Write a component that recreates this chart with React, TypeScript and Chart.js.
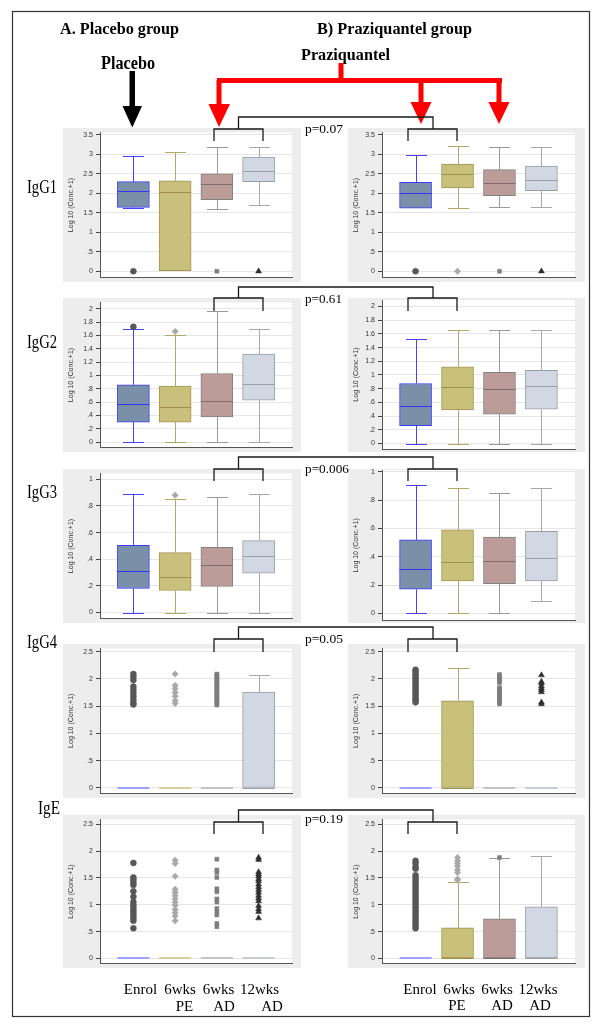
import React, { useEffect, useRef } from 'react';
import { Chart, registerables } from 'chart.js';
Chart.register(...registerables);

// ---------- categories ----------
const groups = ['Enrol', '6wks PE', '6wks AD', '12wks AD'];
const groupX = [1, 2, 3, 4];
const bottomLine1 = ['Enrol', '6wks', '6wks', '12wks'];
const bottomLine2 = ['', 'PE', 'AD', 'AD'];
const rowLabels = ['IgG1', 'IgG2', 'IgG3', 'IgG4', 'IgE'];
const pValues = ['p=0.07', 'p=0.61', 'p=0.006', 'p=0.05', 'p=0.19'];
const yTitle = 'Log 10 (Conc.+1)';

// ---------- tick values / labels ----------
const ticks35 = [0, 0.5, 1, 1.5, 2, 2.5, 3, 3.5];
const ticks35Labels = ['0', '.5', '1', '1.5', '2', '2.5', '3', '3.5'];
const ticks2 = [0, 0.2, 0.4, 0.6, 0.8, 1, 1.2, 1.4, 1.6, 1.8, 2];
const ticks2Labels = ['0', '.2', '.4', '.6', '.8', '1', '1.2', '1.4', '1.6', '1.8', '2'];
const ticks1 = [0, 0.2, 0.4, 0.6, 0.8, 1];
const ticks1Labels = ['0', '.2', '.4', '.6', '.8', '1'];
const ticks25 = [0, 0.5, 1, 1.5, 2, 2.5];
const ticks25Labels = ['0', '.5', '1', '1.5', '2', '2.5'];

// ---------- IgG1 ----------
const igg1PlaLo = [1.62, 0, 1.61, 1.69];
const igg1PlaQ1 = [1.64, 0, 1.84, 2.3];
const igg1PlaMed = [2.06, 2.03, 2.23, 2.57];
const igg1PlaQ3 = [2.3, 2.32, 2.5, 2.93];
const igg1PlaHi = [2.97, 3.07, 3.18, 3.19];
const igg1PlaOut = [[0], [], [0], [0]];

const igg1PzqLo = [1.62, 1.63, 1.65, 1.65];
const igg1PzqQ1 = [1.62, 2.14, 1.94, 2.07];
const igg1PzqMed = [2.0, 2.49, 2.27, 2.34];
const igg1PzqQ3 = [2.28, 2.75, 2.61, 2.7];
const igg1PzqHi = [2.99, 3.21, 3.19, 3.19];
const igg1PzqOut = [[0], [0], [0], [0]];

// ---------- IgG2 ----------
const igg2PlaLo = [0, 0, 0, 0];
const igg2PlaQ1 = [0.3, 0.3, 0.38, 0.63];
const igg2PlaMed = [0.565, 0.525, 0.61, 0.87];
const igg2PlaQ3 = [0.86, 0.84, 1.03, 1.32];
const igg2PlaHi = [1.7, 1.6, 1.96, 1.69];
const igg2PlaOut = [[1.73], [1.66], [], []];

const igg2PzqLo = [0, 0, 0, 0];
const igg2PzqQ1 = [0.26, 0.49, 0.43, 0.5];
const igg2PzqMed = [0.55, 0.83, 0.79, 0.84];
const igg2PzqQ3 = [0.876, 1.12, 1.04, 1.07];
const igg2PzqHi = [1.52, 1.65, 1.66, 1.66];
const igg2PzqOut = [[], [], [], []];

// ---------- IgG3 ----------
const igg3PlaLo = [0, 0, 0, 0];
const igg3PlaQ1 = [0.18, 0.165, 0.195, 0.295];
const igg3PlaMed = [0.31, 0.27, 0.36, 0.425];
const igg3PlaQ3 = [0.505, 0.45, 0.49, 0.54];
const igg3PlaHi = [0.89, 0.85, 0.865, 0.89];
const igg3PlaOut = [[], [0.88], [], []];

const igg3PzqLo = [0, 0, 0, 0.085];
const igg3PzqQ1 = [0.17, 0.23, 0.21, 0.23];
const igg3PzqMed = [0.31, 0.365, 0.37, 0.39];
const igg3PzqQ3 = [0.52, 0.59, 0.54, 0.58];
const igg3PzqHi = [0.91, 0.89, 0.85, 0.89];
const igg3PzqOut = [[], [], [], []];

// ---------- IgG4 ----------
const igg4PlaLo = [0, 0, 0, 0];
const igg4PlaQ1 = [0, 0, 0, 0];
const igg4PlaMed = [0, 0, 0, 0];
const igg4PlaQ3 = [0, 0, 0, 1.76];
const igg4PlaHi = [0, 0, 0, 2.07];
const igg4PlaOut = [
  [2.09, 2.04, 1.98, 1.86, 1.8, 1.74, 1.68, 1.62, 1.56, 1.53],
  [2.09, 1.88, 1.82, 1.75, 1.68, 1.6, 1.55],
  [2.09, 2.06, 2.03, 2.0, 1.97, 1.94, 1.91, 1.88, 1.85, 1.82, 1.79, 1.76, 1.73, 1.7, 1.67, 1.64, 1.61, 1.58, 1.55, 1.52],
  [],
];

const igg4PzqLo = [0, 0, 0, 0];
const igg4PzqQ1 = [0, 0, 0, 0];
const igg4PzqMed = [0, 0, 0, 0];
const igg4PzqQ3 = [0, 1.6, 0, 0];
const igg4PzqHi = [0, 2.2, 0, 0];
const igg4PzqOut = [
  [2.17, 2.13, 2.09, 2.05, 2.01, 1.97, 1.93, 1.89, 1.85, 1.81, 1.77, 1.73, 1.69, 1.65, 1.61, 1.57],
  [],
  [2.08, 2.05, 2.02, 1.99, 1.96, 1.93, 1.84, 1.81, 1.78, 1.75, 1.72, 1.69, 1.66, 1.63, 1.6, 1.57, 1.54],
  [2.07, 1.95, 1.92, 1.87, 1.83, 1.8, 1.76, 1.57, 1.54],
];

// ---------- IgE ----------
const igePlaLo = [0, 0, 0, 0];
const igePlaQ1 = [0, 0, 0, 0];
const igePlaMed = [0, 0, 0, 0];
const igePlaQ3 = [0, 0, 0, 0];
const igePlaHi = [0, 0, 0, 0];
const igePlaOut = [
  [1.78, 1.51, 1.47, 1.42, 1.37, 1.25, 1.15, 1.05, 0.99, 0.94, 0.89, 0.85, 0.8, 0.75, 0.7, 0.56],
  [1.83, 1.77, 1.53, 1.29, 1.23, 1.17, 1.11, 1.05, 0.99, 0.91, 0.85, 0.79, 0.7],
  [1.85, 1.65, 1.6, 1.51, 1.3, 1.24, 1.11, 1.05, 0.93, 0.87, 0.81, 0.65, 0.59],
  [1.88, 1.84, 1.61, 1.57, 1.53, 1.48, 1.44, 1.38, 1.33, 1.28, 1.23, 1.17, 1.12, 1.07, 0.98, 0.92, 0.87, 0.75],
];

const igePzqLo = [0, 0, 0, 0];
const igePzqQ1 = [0, 0, 0, 0];
const igePzqMed = [0, 0, 0, 0];
const igePzqQ3 = [0, 0.57, 0.74, 0.96];
const igePzqHi = [0, 1.43, 1.87, 1.91];
const igePzqOut = [
  [1.82, 1.77, 1.7, 1.67, 1.55, 1.5, 1.45, 1.4, 1.35, 1.3, 1.25, 1.2, 1.15, 1.1, 1.05, 1.0, 0.95, 0.9, 0.85, 0.8, 0.75, 0.7, 0.65, 0.6, 0.56],
  [1.88, 1.82, 1.77, 1.72, 1.65, 1.6, 1.48, 1.46],
  [1.88],
  [],
];

// ---------- styles ----------
const boxFill = ['#7a90a8', '#c9c07c', '#bc9c98', '#d1d8e4'];
const boxBorder = ['#3a3aff', '#a39550', '#808080', '#9a9ca4'];
const whiskerColor = ['#4444ff', '#b5a866', '#9a9a9a', '#a8a8a8'];
const medianColor = ['#3333ff', '#9e8f4c', '#7c6c6c', '#9aa0a8'];
const flatColor = ['#a0a0ff', '#d8d0a0', '#c4c4c4', '#c8ccd4'];
const markerColor = ['#575757', '#a8a8a8', '#7e7e7e', '#2e2e2e'];
const markerStyle = ['circle', 'rectRot', 'rect', 'triangle'];
const markerRadius = [3, 3.2, 2.8, 3.4];

const SERIF = "'Liberation Serif', 'Times New Roman', serif";
const SANS = "'Liberation Sans', Arial, sans-serif";

type PanelProps = {
  left: number; top: number; width: number; height: number;
  axisWidth: number; padTop: number; padBottom: number; padRight: number;
  yMin: number; yMax: number; tickVals: number[]; tickLabels: string[];
  lo: number[]; q1: number[]; med: number[]; q3: number[]; hi: number[]; out: number[][];
};

function Panel(p: PanelProps) {
  const ref = useRef<HTMLCanvasElement>(null);
  useEffect(() => {
    const canvas = ref.current;
    if (!canvas) return;
    const px = (v: number) => Math.round(v) + 0.5;
    const boxPlugin = {
      id: 'boxParts',
      beforeDraw(chart: any) {
        const { ctx, chartArea: a } = chart;
        ctx.save();
        ctx.fillStyle = '#ededed';
        ctx.fillRect(0, 0, chart.width, chart.height);
        ctx.fillStyle = '#ffffff';
        ctx.fillRect(a.left, a.top, a.right - a.left, a.bottom - a.top);
        ctx.restore();
      },
      beforeDatasetsDraw(chart: any) {
        const { ctx } = chart;
        const xs = chart.scales.x;
        const ys = chart.scales.y;
        ctx.save();
        ctx.lineWidth = 1;
        groupX.forEach((gx, i) => {
          const x = px(xs.getPixelForValue(gx));
          ctx.strokeStyle = whiskerColor[i];
          ctx.beginPath();
          if (p.hi[i] > p.q3[i]) {
            const y0 = ys.getPixelForValue(p.q3[i]);
            const y1 = px(ys.getPixelForValue(p.hi[i]));
            ctx.moveTo(x, y0); ctx.lineTo(x, y1);
            ctx.moveTo(x - 10.5, y1); ctx.lineTo(x + 10.5, y1);
          }
          if (p.lo[i] < p.q1[i]) {
            const y0 = ys.getPixelForValue(p.q1[i]);
            const y1 = px(ys.getPixelForValue(p.lo[i]));
            ctx.moveTo(x, y0); ctx.lineTo(x, y1);
            ctx.moveTo(x - 10.5, y1); ctx.lineTo(x + 10.5, y1);
          }
          ctx.stroke();
        });
        ctx.restore();
      },
      afterDatasetsDraw(chart: any) {
        const { ctx } = chart;
        const xs = chart.scales.x;
        const ys = chart.scales.y;
        ctx.save();
        groupX.forEach((gx, i) => {
          const x = xs.getPixelForValue(gx);
          const y = ys.getPixelForValue(p.med[i]);
          ctx.beginPath();
          if (p.q3[i] > p.q1[i]) {
            ctx.strokeStyle = medianColor[i];
            ctx.lineWidth = 1;
            ctx.moveTo(x - 16, px(y)); ctx.lineTo(x + 16, px(y));
          } else {
            ctx.strokeStyle = flatColor[i];
            ctx.lineWidth = 2;
            ctx.moveTo(x - 16, Math.round(y)); ctx.lineTo(x + 16, Math.round(y));
          }
          ctx.stroke();
        });
        ctx.restore();
      },
    };

    const datasets: any[] = [
      {
        type: 'bar',
        data: groupX.map((gx, i) => ({ x: gx, y: [p.q1[i], p.q3[i]] })),
        backgroundColor: boxFill,
        borderColor: boxBorder,
        borderWidth: 1,
        borderSkipped: false,
        barThickness: 32,
        grouped: false,
        order: 2,
      },
      ...groupX.map((gx, i) => ({
        type: 'scatter',
        data: p.out[i].map((v) => ({ x: gx, y: v })),
        pointStyle: markerStyle[i],
        pointRadius: markerRadius[i],
        pointBackgroundColor: markerColor[i],
        pointBorderColor: markerColor[i],
        pointBorderWidth: 0.5,
        showLine: false,
        order: 1,
      })),
    ];

    const chart = new Chart(canvas, {
      type: 'scatter',
      data: { datasets },
      options: {
        responsive: false,
        animation: false,
        devicePixelRatio: 1,
        events: [],
        layout: { padding: { top: p.padTop, bottom: p.padBottom, left: 0, right: p.padRight } },
        plugins: { legend: { display: false }, tooltip: { enabled: false } },
        scales: {
          x: {
            type: 'linear',
            min: 0.2,
            max: 4.8,
            offset: false,
            ticks: { display: false },
            grid: { display: false, drawTicks: false, offset: false },
            border: { display: true, color: '#555555', width: 1 },
            afterFit: (s: any) => { s.height = 0; s.paddingLeft = 0; s.paddingRight = 0; },
          },
          y: {
            type: 'linear',
            min: p.yMin,
            max: p.yMax,
            afterBuildTicks: (s: any) => { s.ticks = p.tickVals.map((v) => ({ value: v })); },
            afterFit: (s: any) => { s.width = p.axisWidth; s.paddingTop = 0; s.paddingBottom = 0; },
            ticks: {
              autoSkip: false,
              padding: 3,
              color: '#333333',
              font: { family: SANS, size: 7 },
              callback: (_v: any, i: number) => p.tickLabels[i],
            },
            grid: { color: '#e6e6e6', tickColor: '#444444', tickLength: 4, drawTicks: true },
            border: { display: true, color: '#555555', width: 1 },
            title: {
              display: true,
              text: yTitle,
              color: '#333333',
              font: { family: SANS, size: 7 },
              padding: { top: 4, bottom: 0 },
            },
          },
        },
      } as any,
      plugins: [boxPlugin],
    });
    return () => chart.destroy();
  }, []);
  return (
    <canvas
      ref={ref}
      width={p.width}
      height={p.height}
      style={{ position: 'absolute', left: p.left, top: p.top, width: p.width, height: p.height }}
    />
  );
}

// ---------- layout ----------
function yRange(plotTop: number, plotBottom: number, v0: number, p0: number, v1: number, p1: number) {
  const k = (p0 - p1) / (v1 - v0);
  return { min: v0 - (plotBottom - p0) / k, max: v1 + (p1 - plotTop) / k };
}

const rowGeom = [
  { grayTop: 128, grayBottom: 282, plotTop: 129, plotBottom: 279, top: 3.5, L: [272.5, 131.5], R: [272.5, 131.5] },
  { grayTop: 298, grayBottom: 452, plotTop: 300, plotBottom: 449, top: 2, L: [443.5, 306.5], R: [443.5, 306.5] },
  { grayTop: 469, grayBottom: 623, plotTop: 470, plotBottom: 620.5, top: 1, L: [614.3, 476], R: [613.3, 472] },
  { grayTop: 644, grayBottom: 798, plotTop: 645, plotBottom: 793, top: 2.5, L: [787.7, 648.3], R: [787.7, 648.3] },
  { grayTop: 815, grayBottom: 968, plotTop: 815, plotBottom: 964.5, top: 2.5, L: [959.2, 820], R: [959.2, 820] },
];
const rowTicks = [
  [ticks35, ticks35Labels],
  [ticks2, ticks2Labels],
  [ticks1, ticks1Labels],
  [ticks25, ticks25Labels],
  [ticks25, ticks25Labels],
] as [number[], string[]][];

const placeboStats = [
  [igg1PlaLo, igg1PlaQ1, igg1PlaMed, igg1PlaQ3, igg1PlaHi, igg1PlaOut],
  [igg2PlaLo, igg2PlaQ1, igg2PlaMed, igg2PlaQ3, igg2PlaHi, igg2PlaOut],
  [igg3PlaLo, igg3PlaQ1, igg3PlaMed, igg3PlaQ3, igg3PlaHi, igg3PlaOut],
  [igg4PlaLo, igg4PlaQ1, igg4PlaMed, igg4PlaQ3, igg4PlaHi, igg4PlaOut],
  [igePlaLo, igePlaQ1, igePlaMed, igePlaQ3, igePlaHi, igePlaOut],
] as any[];
const pzqStats = [
  [igg1PzqLo, igg1PzqQ1, igg1PzqMed, igg1PzqQ3, igg1PzqHi, igg1PzqOut],
  [igg2PzqLo, igg2PzqQ1, igg2PzqMed, igg2PzqQ3, igg2PzqHi, igg2PzqOut],
  [igg3PzqLo, igg3PzqQ1, igg3PzqMed, igg3PzqQ3, igg3PzqHi, igg3PzqOut],
  [igg4PzqLo, igg4PzqQ1, igg4PzqMed, igg4PzqQ3, igg4PzqHi, igg4PzqOut],
  [igePzqLo, igePzqQ1, igePzqMed, igePzqQ3, igePzqHi, igePzqOut],
] as any[];

const sides = {
  L: { left: 63, width: 238, axisWidth: 37, padRight: 9 },
  R: { left: 348, width: 237, axisWidth: 34, padRight: 10 },
};

const bracketRows = [
  { top: 117, mid: 129, leg: 141 },
  { top: 287, mid: 298, leg: 311 },
  { top: 457, mid: 469, leg: 481 },
  { top: 627, mid: 639, leg: 652 },
  { top: 810, mid: 822, leg: 834 },
];
const rowLabelPos = [
  { x: 27, y: 193.3, w: 30 },
  { x: 27, y: 348.3, w: 30 },
  { x: 27, y: 498.3, w: 30 },
  { x: 27, y: 648.3, w: 30 },
  { x: 38, y: 814, w: 22 },
];
const pPos = [
  { y: 133.3, w: 38 },
  { y: 303.3, w: 37 },
  { y: 473.3, w: 44 },
  { y: 643.3, w: 38 },
  { y: 823.3, w: 38 },
];
const bottomLeftX1 = [140.5, 180, 218.5, 259.5];
const bottomLeftX2 = [0, 184.5, 224, 272];
const bottomRightX1 = [420, 459, 497, 538];
const bottomRightX2 = [0, 457, 502, 540];

export default function App() {
  const panels: any[] = [];
  rowGeom.forEach((g, r) => {
    (['L', 'R'] as const).forEach((side) => {
      const s = sides[side];
      const cal = g[side];
      const rng = yRange(g.plotTop, g.plotBottom, 0, cal[0], g.top, cal[1]);
      const st = side === 'L' ? placeboStats[r] : pzqStats[r];
      panels.push(
        <Panel
          key={`${r}${side}`}
          left={s.left}
          top={g.grayTop}
          width={s.width}
          height={g.grayBottom - g.grayTop}
          axisWidth={s.axisWidth}
          padTop={g.plotTop - g.grayTop}
          padBottom={g.grayBottom - g.plotBottom}
          padRight={s.padRight}
          yMin={rng.min}
          yMax={rng.max}
          tickVals={rowTicks[r][0]}
          tickLabels={rowTicks[r][1]}
          lo={st[0]} q1={st[1]} med={st[2]} q3={st[3]} hi={st[4]} out={st[5]}
        />
      );
    });
  });

  const red = '#ff0000';
  return (
    <div style={{ position: 'absolute', left: 0, top: 0, width: 600, height: 1027, background: '#ffffff', overflow: 'hidden' }}>
      {panels}
      <svg width={600} height={1027} style={{ position: 'absolute', left: 0, top: 0, pointerEvents: 'none' }}>
        <rect x={12.5} y={11.5} width={577} height={1005} fill="none" stroke="#333333" strokeWidth={1.2} />
        {/* headers */}
        <text x={60} y={34} fontFamily={SERIF} fontWeight="bold" fontSize={17} textLength={119} lengthAdjust="spacingAndGlyphs">A. Placebo group</text>
        <text x={317} y={34} fontFamily={SERIF} fontWeight="bold" fontSize={17} textLength={155} lengthAdjust="spacingAndGlyphs">B) Praziquantel group</text>
        <text x={101} y={68.5} fontFamily={SERIF} fontWeight="bold" fontSize={18} textLength={54} lengthAdjust="spacingAndGlyphs">Placebo</text>
        <text x={301} y={59.6} fontFamily={SERIF} fontWeight="bold" fontSize={17} textLength={89} lengthAdjust="spacingAndGlyphs">Praziquantel</text>
        {/* black arrow */}
        <rect x={129.5} y={71} width={5.5} height={37} fill="#000" />
        <polygon points="122.5,106 142,106 132.3,127.5" fill="#000" />
        {/* red bracket arrows */}
        <rect x={338.5} y={63} width={5} height={17} fill={red} />
        <rect x={217} y={78} width={285} height={5} fill={red} />
        <rect x={216.5} y={80} width={5} height={25} fill={red} />
        <rect x={418.5} y={80} width={5} height={23} fill={red} />
        <rect x={496.5} y={80} width={5} height={23} fill={red} />
        <polygon points="208.5,104 230,104 219,127" fill={red} />
        <polygon points="410.5,102 431.5,102 421,124" fill={red} />
        <polygon points="488.5,102 509.5,102 499,124" fill={red} />
        {/* brackets and p-values */}
        {bracketRows.map((b, r) => (
          <g key={r} stroke="#1a1a1a" strokeWidth={1.3} fill="none">
            <polyline points={`214,${b.leg} 214,${b.mid} 263,${b.mid} 263,${b.leg}`} />
            <polyline points={`238.5,${b.mid} 238.5,${b.top} 433,${b.top} 433,${b.mid}`} />
            <polyline points={`408,${b.leg} 408,${b.mid} 457,${b.mid} 457,${b.leg}`} />
          </g>
        ))}
        {pValues.map((t, r) => (
          <text key={t} x={305} y={pPos[r].y} fontFamily={SERIF} fontSize={13.5} textLength={pPos[r].w} lengthAdjust="spacingAndGlyphs">{t}</text>
        ))}
        {rowLabels.map((t, r) => (
          <text key={t} x={rowLabelPos[r].x} y={rowLabelPos[r].y} fontFamily={SERIF} fontSize={18} textLength={rowLabelPos[r].w} lengthAdjust="spacingAndGlyphs">{t}</text>
        ))}
        {/* bottom group labels */}
        {bottomLine1.map((t, i) => (
          <text key={`l1${i}`} x={bottomLeftX1[i]} y={994.3} textAnchor="middle" fontFamily={SERIF} fontSize={15}>{t}</text>
        ))}
        {bottomLine2.map((t, i) => t ? (
          <text key={`l2${i}`} x={bottomLeftX2[i]} y={1010.7} textAnchor="middle" fontFamily={SERIF} fontSize={15}>{t}</text>
        ) : null)}
        {bottomLine1.map((t, i) => (
          <text key={`r1${i}`} x={bottomRightX1[i]} y={993.8} textAnchor="middle" fontFamily={SERIF} fontSize={15}>{t}</text>
        ))}
        {bottomLine2.map((t, i) => t ? (
          <text key={`r2${i}`} x={bottomRightX2[i]} y={1010.4} textAnchor="middle" fontFamily={SERIF} fontSize={15}>{t}</text>
        ) : null)}
      </svg>
      <div style={{ display: 'none' }}>{groups.join(',')}</div>
    </div>
  );
}
